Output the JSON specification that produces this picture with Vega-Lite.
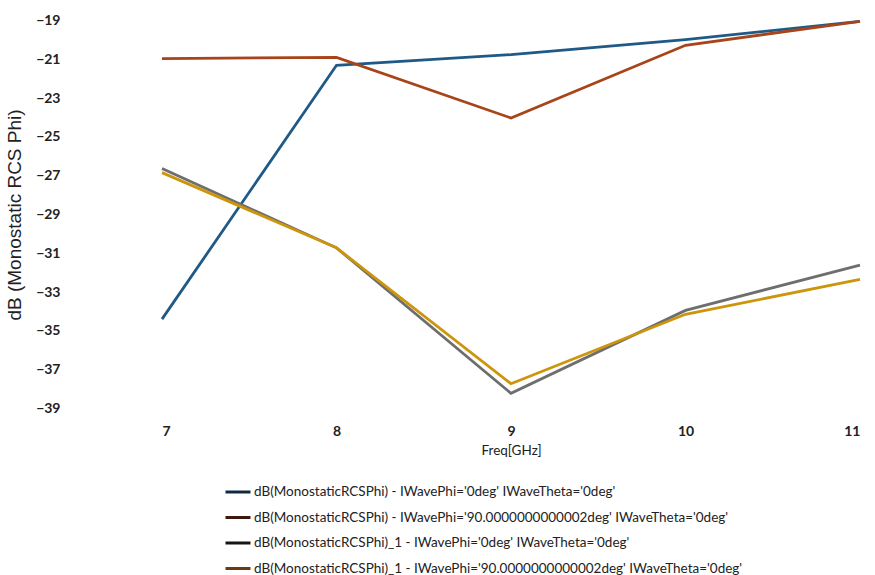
{
  "$schema": "https://vega.github.io/schema/vega-lite/v6.json",
  "autosize": {"type": "none"},
  "width": 698,
  "height": 407,
  "padding": {"left": 162, "top": 11, "right": 15, "bottom": 157},
  "background": "white",
  "config": {"view": {"stroke": null}},
  "data": {"values": [
    {"f": 7, "db": -34.4, "s": "dB(MonostaticRCSPhi)  - IWavePhi='0deg' IWaveTheta='0deg'"},
    {"f": 8, "db": -21.3, "s": "dB(MonostaticRCSPhi)  - IWavePhi='0deg' IWaveTheta='0deg'"},
    {"f": 9, "db": -20.75, "s": "dB(MonostaticRCSPhi)  - IWavePhi='0deg' IWaveTheta='0deg'"},
    {"f": 10, "db": -19.98, "s": "dB(MonostaticRCSPhi)  - IWavePhi='0deg' IWaveTheta='0deg'"},
    {"f": 11, "db": -19.03, "s": "dB(MonostaticRCSPhi)  - IWavePhi='0deg' IWaveTheta='0deg'"},
    {"f": 7, "db": -20.96, "s": "dB(MonostaticRCSPhi)  - IWavePhi='90.0000000000002deg' IWaveTheta='0deg'"},
    {"f": 8, "db": -20.89, "s": "dB(MonostaticRCSPhi)  - IWavePhi='90.0000000000002deg' IWaveTheta='0deg'"},
    {"f": 9, "db": -24.02, "s": "dB(MonostaticRCSPhi)  - IWavePhi='90.0000000000002deg' IWaveTheta='0deg'"},
    {"f": 10, "db": -20.27, "s": "dB(MonostaticRCSPhi)  - IWavePhi='90.0000000000002deg' IWaveTheta='0deg'"},
    {"f": 11, "db": -19.03, "s": "dB(MonostaticRCSPhi)  - IWavePhi='90.0000000000002deg' IWaveTheta='0deg'"},
    {"f": 7, "db": -26.63, "s": "dB(MonostaticRCSPhi)_1  - IWavePhi='0deg' IWaveTheta='0deg'"},
    {"f": 8, "db": -30.72, "s": "dB(MonostaticRCSPhi)_1  - IWavePhi='0deg' IWaveTheta='0deg'"},
    {"f": 9, "db": -38.23, "s": "dB(MonostaticRCSPhi)_1  - IWavePhi='0deg' IWaveTheta='0deg'"},
    {"f": 10, "db": -33.95, "s": "dB(MonostaticRCSPhi)_1  - IWavePhi='0deg' IWaveTheta='0deg'"},
    {"f": 11, "db": -31.61, "s": "dB(MonostaticRCSPhi)_1  - IWavePhi='0deg' IWaveTheta='0deg'"},
    {"f": 7, "db": -26.84, "s": "dB(MonostaticRCSPhi)_1  - IWavePhi='90.0000000000002deg' IWaveTheta='0deg'"},
    {"f": 8, "db": -30.72, "s": "dB(MonostaticRCSPhi)_1  - IWavePhi='90.0000000000002deg' IWaveTheta='0deg'"},
    {"f": 9, "db": -37.73, "s": "dB(MonostaticRCSPhi)_1  - IWavePhi='90.0000000000002deg' IWaveTheta='0deg'"},
    {"f": 10, "db": -34.15, "s": "dB(MonostaticRCSPhi)_1  - IWavePhi='90.0000000000002deg' IWaveTheta='0deg'"},
    {"f": 11, "db": -32.35, "s": "dB(MonostaticRCSPhi)_1  - IWavePhi='90.0000000000002deg' IWaveTheta='0deg'"}
  ]},
  "encoding": {
    "x": {
      "field": "f", "type": "quantitative",
      "scale": {"domain": [7, 11], "nice": false, "zero": false},
      "axis": {
        "title": "Freq[GHz]", "values": [7, 8, 9, 10, 11], "grid": false, "domain": false, "ticks": false,
        "labelFont": "Lato", "labelFontSize": 14, "labelFontWeight": "bold", "labelColor": "#222",
        "labelPadding": 6, "titleFont": "Lato", "titleFontSize": 13.5, "titleFontWeight": "normal",
        "titleColor": "#222", "titlePadding": 5
      }
    },
    "y": {
      "field": "db", "type": "quantitative",
      "scale": {"domain": [-39.5, -18.5], "nice": false, "zero": false},
      "axis": {
        "title": "dB (Monostatic RCS Phi)", "values": [-39, -37, -35, -33, -31, -29, -27, -25, -23, -21, -19],
        "grid": false, "domain": false, "ticks": false,
        "labelFont": "Lato", "labelFontSize": 14, "labelFontWeight": "bold", "labelColor": "#222",
        "labelPadding": 102, "titleFont": "Liberation Sans", "titleFontSize": 19, "titleFontWeight": "normal",
        "titleColor": "#222", "titlePadding": 11
      }
    }
  },
  "layer": [
    {
      "mark": {"type": "line", "strokeWidth": 2.8},
      "encoding": {
        "stroke": {
          "field": "s", "type": "nominal",
          "scale": {
            "domain": [
              "dB(MonostaticRCSPhi)_1  - IWavePhi='90.0000000000002deg' IWaveTheta='0deg'",
              "dB(MonostaticRCSPhi)_1  - IWavePhi='0deg' IWaveTheta='0deg'",
              "dB(MonostaticRCSPhi)  - IWavePhi='90.0000000000002deg' IWaveTheta='0deg'",
              "dB(MonostaticRCSPhi)  - IWavePhi='0deg' IWaveTheta='0deg'"
            ],
            "range": ["#cc950c", "#6e6e6e", "#a8441a", "#1f5a87"]
          },
          "legend": null
        }
      }
    },
    {
      "mark": {"type": "line", "strokeWidth": 3, "opacity": 0},
      "encoding": {
        "color": {
          "field": "s", "type": "nominal",
          "scale": {
            "domain": [
              "dB(MonostaticRCSPhi)  - IWavePhi='0deg' IWaveTheta='0deg'",
              "dB(MonostaticRCSPhi)  - IWavePhi='90.0000000000002deg' IWaveTheta='0deg'",
              "dB(MonostaticRCSPhi)_1  - IWavePhi='0deg' IWaveTheta='0deg'",
              "dB(MonostaticRCSPhi)_1  - IWavePhi='90.0000000000002deg' IWaveTheta='0deg'"
            ],
            "range": ["#0f2a40", "#3e1810", "#151515", "#6e3a12"]
          },
          "legend": {
            "title": null, "orient": "none", "legendX": 62, "legendY": 467, "direction": "vertical",
            "symbolType": "stroke", "symbolSize": 625, "symbolStrokeWidth": 3, "symbolOpacity": 1,
            "labelFont": "Lato", "labelFontSize": 13.5, "labelColor": "#222", "labelLimit": 800,
            "rowPadding": 4.5, "labelOffset": 2
          }
        }
      }
    }
  ]
}
